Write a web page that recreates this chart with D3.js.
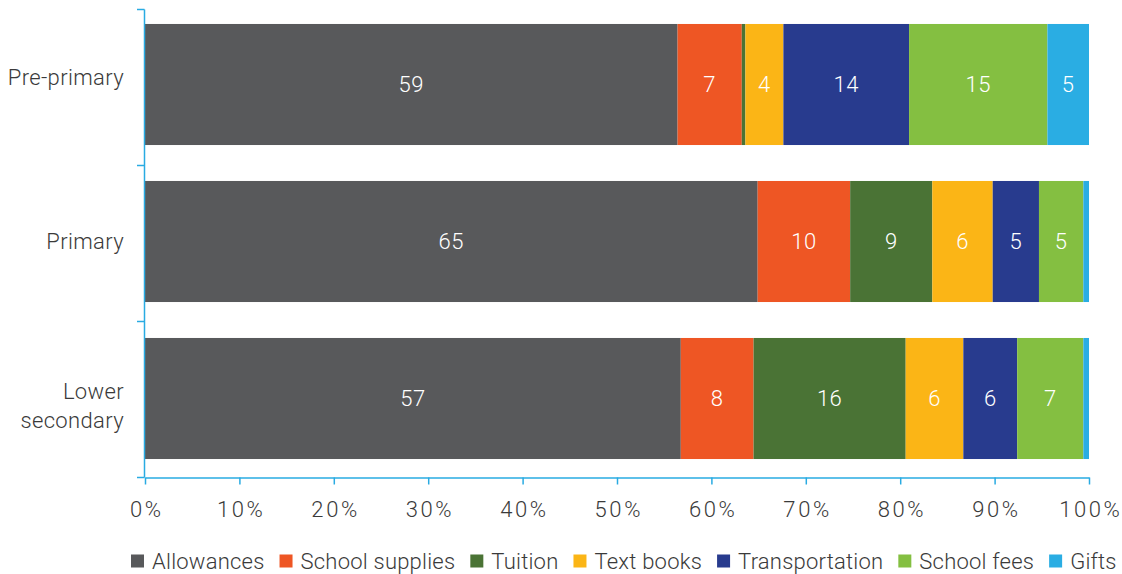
<!DOCTYPE html>
<html>
<head>
<meta charset="utf-8">
<script src="https://cdn.jsdelivr.net/npm/d3@7"></script>
<style>
  html, body { margin: 0; padding: 0; background: #fff; }
  svg { display: block; font-family: Roboto, "Noto Sans", sans-serif; font-weight: 300; }
</style>
</head>
<body>
<svg id="chart" width="1122" height="574"></svg>
<script>
const categories = ["Pre-primary", "Primary", "Lower secondary"];
const categoryLines = [["Pre-primary"], ["Primary"], ["Lower", "secondary"]];
const seriesNames = ["Allowances", "School supplies", "Tuition", "Text books", "Transportation", "School fees", "Gifts"];
const seriesColors = ["#58595b", "#ee5624", "#4a7335", "#fbb516", "#283b8e", "#84bf41", "#2aade3"];
const allowances     = [58.9, 64.9, 56.7];
const schoolSupplies = [7.1, 9.8, 7.7];
const tuition        = [0.4, 8.7, 16.1];
const textBooks      = [4.2, 6.4, 6.1];
const transportation = [13.9, 4.9, 5.7];
const schoolFees     = [15.3, 4.7, 7.0];
const gifts          = [4.6, 0.6, 0.6];
const xTicks = [0, 0.1, 0.2, 0.3, 0.4, 0.5, 0.6, 0.7, 0.8, 0.9, 1.0];

const seriesValues = [allowances, schoolSupplies, tuition, textBooks, transportation, schoolFees, gifts];
const table = categories.map((c, i) => {
  const row = { category: c };
  seriesNames.forEach((s, j) => row[s] = seriesValues[j][i]);
  return row;
});

const svg = d3.select("#chart");
const axisColor = "#29abe2";
const textColor = "#3a3a3a";

const x = d3.scaleLinear().domain([0, 1]).range([145, 1089]);
const yBars = d3.scaleBand().domain(categories).range([6, 477]).paddingInner(0.229).paddingOuter(0.1145);
const yAxisBand = d3.scaleBand().domain(categories).range([9.5, 477.5]).padding(0);
const yLabels = d3.scaleBand().domain(categories).range([-5.5, 487.5]).padding(0);

const stack = d3.stack().keys(seriesNames).offset(d3.stackOffsetExpand);
const stacked = stack(table);

// bars
const layers = svg.append("g").selectAll("g")
  .data(stacked).join("g")
  .attr("fill", (d, i) => seriesColors[i]);

layers.selectAll("rect")
  .data(d => d.map(p => ({ p, key: d.key })))
  .join("rect")
  .attr("x", d => x(d.p[0]))
  .attr("width", d => x(d.p[1]) - x(d.p[0]))
  .attr("y", d => yBars(d.p.data.category))
  .attr("height", yBars.bandwidth());

// value labels
layers.selectAll("text")
  .data(d => d.map(p => ({ p, key: d.key })))
  .join("text")
  .filter(d => x(d.p[1]) - x(d.p[0]) > 12)
  .attr("x", d => (x(d.p[0]) + x(d.p[1])) / 2)
  .attr("y", d => yBars(d.p.data.category) + yBars.bandwidth() / 2)
  .attr("dy", "0.34em")
  .attr("text-anchor", "middle")
  .attr("fill", "#ffffff")
  .attr("font-size", 22)
  .attr("letter-spacing", 0.5)
  .text(d => d3.format(".0f")(d.p.data[d.key]));

// y axis
const yAxis = svg.append("g");
yAxis.append("line")
  .attr("x1", 144.5).attr("x2", 144.5)
  .attr("y1", yAxisBand.range()[0]).attr("y2", yAxisBand.range()[1])
  .attr("stroke", axisColor).attr("stroke-width", 1.5);
const boundaries = categories.map(c => yAxisBand(c)).concat([yAxisBand.range()[1]]);
yAxis.selectAll("line.tick")
  .data(boundaries).join("line")
  .attr("class", "tick")
  .attr("x1", 137).attr("x2", 144.5)
  .attr("y1", d => d).attr("y2", d => d)
  .attr("stroke", axisColor).attr("stroke-width", 1.5);

// category labels
const lineH = 29, capH = 16;
const catLabels = svg.append("g");
categories.forEach((c, i) => {
  const lines = categoryLines[i];
  const center = yLabels(c) + yLabels.bandwidth() / 2;
  const blockH = capH + (lines.length - 1) * lineH;
  const firstBase = center - blockH / 2 + capH;
  const t = catLabels.append("text")
    .attr("text-anchor", "end")
    .attr("fill", textColor)
    .attr("font-size", 22)
    .attr("letter-spacing", 0.35);
  lines.forEach((ln, k) => {
    t.append("tspan").attr("x", 124).attr("y", firstBase + k * lineH).text(ln);
  });
});

// x axis
const xAxis = svg.append("g")
  .attr("transform", "translate(0,477.5)")
  .call(d3.axisBottom(x).tickValues(xTicks).tickFormat(d3.format(".0%")).tickSize(7).tickSizeOuter(0).tickPadding(17));
xAxis.select(".domain").attr("stroke", axisColor).attr("stroke-width", 1.5);
xAxis.selectAll(".tick line").attr("stroke", axisColor).attr("stroke-width", 1.5);
xAxis.selectAll(".tick text")
  .attr("fill", textColor)
  .attr("font-size", 22)
  .attr("letter-spacing", 2.6)
  .attr("dx", 1.3)
  .attr("font-family", "Roboto, sans-serif")
  .attr("font-weight", 300);

// legend
const legend = svg.append("g").attr("transform", "translate(0,561)");
let lx = 131;
seriesNames.forEach((s, i) => {
  legend.append("rect")
    .attr("x", lx).attr("y", -6.5)
    .attr("width", 13).attr("height", 13)
    .attr("fill", seriesColors[i]);
  const t = legend.append("text")
    .attr("x", lx + 21).attr("y", 0)
    .attr("dy", "0.36em")
    .attr("fill", textColor)
    .attr("font-size", 22)
    .attr("letter-spacing", 0.22)
    .text(s);
  lx = lx + 21 + t.node().getComputedTextLength() + 15;
});
</script>
</body>
</html>
